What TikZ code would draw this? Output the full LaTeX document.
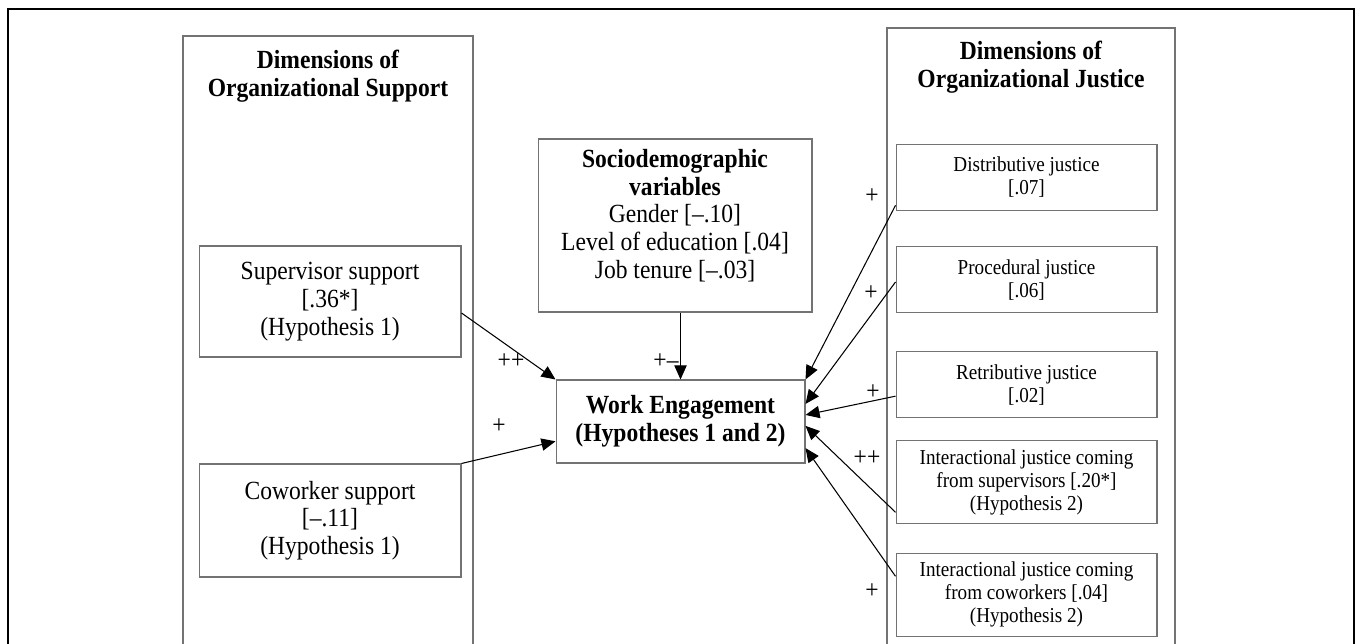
\documentclass[tikz,border=0pt]{standalone}
\usepackage{fontspec}
\setmainfont{Liberation Serif}[FakeStretch=0.9]
\usetikzlibrary{arrows.meta}

\tikzset{
	box/.style={draw=black!55, line width=0.6pt, inner sep=0pt, align=center},
	big/.style={font=\fontsize{14.9}{15.8}\selectfont},
	small/.style={font=\fontsize{12.1}{13.1}\selectfont},
	link/.style={line width=0.6pt, -{Triangle[length=8pt,width=7pt]}},
}

\begin{document}
\begin{tikzpicture}[x=0.02cm, y=-0.02cm]
		\useasboundingbox (0,0) rectangle (1358,643);
		\clip (0,0) rectangle (1358,643);
		% frame and the two columns
		\draw[line width=0.8pt] (8,9) rectangle (1354,700);
		\draw[draw=black!55, line width=0.6pt] (183,36) rectangle (473,700);
		\draw[draw=black!55, line width=0.6pt] (887,28) rectangle (1175,700);
		\node[big, align=center] (supporttitle) at (328,76) {\textbf{Dimensions of}\\\textbf{Organizational Support}};
		\node[big, align=center] (justicetitle) at (1031,67) {\textbf{Dimensions of}\\\textbf{Organizational Justice}};
		% support
		\node[box, big, minimum width=5.24cm, minimum height=2.22cm] (sup) at (330,301.5) {Supervisor support\\{}[.36*]\\(Hypothesis 1)};
		\node[box, big, minimum width=5.24cm, minimum height=2.26cm] (cow) at (330,520.5) {Coworker support\\{}[–.11]\\(Hypothesis 1)};
		% sociodemographic
		\node[box, minimum width=5.48cm, minimum height=3.46cm] (soc) at (675,225.5) {};
		\node[big, align=center] (soctext) at (675,215.5) {\textbf{Sociodemographic}\\\textbf{variables}\\Gender [–.10]\\Level of education [.04]\\Job tenure [–.03]};
		\node[box, big, minimum width=4.98cm, minimum height=1.66cm] (we) at (680.5,421.5) {\textbf{Work Engagement}\\\textbf{(Hypotheses 1 and 2)}};
		% justice
		\foreach \n/\y/\h/\t in {
			dis/177.5/1.32/{Distributive justice\\{}[.07]},
			pro/279.7/1.32/{Procedural justice\\{}[.06]},
			ret/384.7/1.32/{Retributive justice\\{}[.02]},
			isu/482/1.66/{Interactional justice coming\\from supervisors [.20*]\\(Hypothesis 2)},
			ico/594.7/1.66/{Interactional justice coming\\from coworkers [.04]\\(Hypothesis 2)}}
		{
			\node[box, small, minimum width=5.22cm, minimum height=\h cm] (\n) at (1026.5,\y) {\t};
		}
		% arrows
		\draw[link] (sup.-5) -- (we.north west);
		\draw[link] (cow.north east) -- (we.189);
		\draw[link] (we.north |- soc.south) -- (we.north);
		\foreach \a/\b in {dis.192/we.north east, pro.181/we.8, ret.185/we.3, isu.193/we.-2, ico.172/we.-12}
		{
			\draw[link] (\a) -- (\b);
		}
		% signs
		\foreach \x/\y/\s [count=\i] in {511/361/++, 499/426/+, 666/361/+–, 872/196/+, 871/293/+, 873/392/+, 867/458/++, 872/591/+}
		{
			\node[big, inner sep=0pt] (sign\i) at (\x,\y) {\s};
		}
\end{tikzpicture}
\end{document}
